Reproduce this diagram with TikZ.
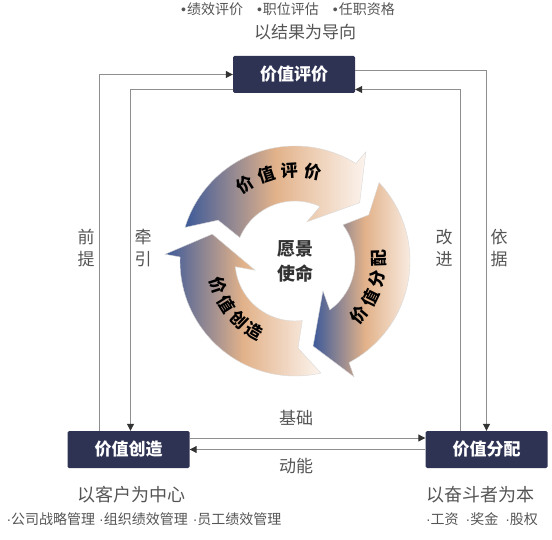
\documentclass[tikz,border=0pt]{standalone}
\usepackage{fontspec}
\setmainfont{Noto Sans CJK SC}
\newfontfamily\dotfont{Liberation Sans}
\usetikzlibrary{arrows.meta}

\definecolor{boxnavy}{HTML}{2E3354}
\definecolor{linegray}{HTML}{8E8E8E}
\definecolor{textgray}{HTML}{555555}
\definecolor{ringblue}{HTML}{3D5A99}
\definecolor{ringtan}{HTML}{E2B28A}
\definecolor{ringpale}{HTML}{FCF4EE}

\newcommand\bul{{\dotfont\textbullet}\hspace{1pt}}
\newcommand\mdot{{\dotfont\textperiodcentered}}

\tikzset{
  stage/.style={fill=boxnavy, text=white, font=\bfseries\fontsize{17}{17}\selectfont,
    minimum width=122pt, minimum height=37pt, inner sep=0pt, rounded corners=1.5pt},
  note/.style={text=textgray, font=\fontsize{17}{21.5}\selectfont, inner sep=0pt, align=center},
  small/.style={text=textgray, font=\fontsize{14}{14}\selectfont, inner sep=0pt},
  ringtext/.style={font=\bfseries\fontsize{17}{17}\selectfont, inner sep=0pt},
  link/.style={draw=linegray, line width=1pt},
  linkarrow/.style={link, -{Triangle[length=7pt,width=7pt,color=black!80]}}
}

% one ring segment, #1 = angle of its tip
\newcommand\cyclearrow[1]{%
  \shade[left color=ringblue, right color=ringpale, middle color=ringtan,
         draw=black!15, line width=.4pt]
    ({#1+121}:115) arc[start angle={#1+121}, end angle={#1+16}, radius=115]
    -- ({#1+15}:130) -- (#1:87) -- ({#1+31}:41) -- ({#1+23.4}:60)
    arc[start angle={#1+23.4}, end angle={#1+115}, radius=60]
    -- ({#1+110}:87) -- cycle;}

\begin{document}
\begin{tikzpicture}[x=1pt,y=1pt]
  \useasboundingbox (0,0) rectangle (552,539);

  \node[stage] (eval) at (294,464.5) {价值评价};
  \node[stage] (create) at (128.5,89.5) {价值创造};
  \node[stage] (alloc) at (486.5,89.5) {价值分配};

  \node[small] (evalitems) at (288,530) {\bul 绩效评价\hspace{14pt}\bul 职位评估\hspace{14pt}\bul 任职资格};
  \node[note] (evalaim) at (305,507) {以结果为导向};
  \node[note, font=\fontsize{18}{18}\selectfont] (createaim) at (131,44) {以客户为中心};
  \node[small] (createitems) at (144,20) {\mdot 公司战略管理\hspace{4pt}\mdot 组织绩效管理\hspace{5pt}\mdot 员工绩效管理};
  \node[note, font=\fontsize{18}{18}\selectfont] (allocaim) at (480,44) {以奋斗者为本};
  \node[small] (allocitems) at (482,20) {\mdot 工资\hspace{7pt}\mdot 奖金\hspace{7pt}\mdot 股权};

  \draw[linkarrow] ([xshift=-29.5pt]create.north) |- (eval.west);
  \draw[linkarrow] ([yshift=-15pt]eval.west) -| ([xshift=2pt]create.north);
  \draw[linkarrow] ([yshift=4pt]eval.east) -| (alloc.north);
  \draw[linkarrow] ([xshift=-26pt]alloc.north) |- ([yshift=-15pt]eval.east);
  \draw[linkarrow] ([yshift=11.5pt]create.east) -- ([yshift=11.5pt]alloc.west);
  \draw[linkarrow] (alloc.west) -- (create.east);

  \node[note] (premise) at (86,291) {前\\提};
  \node[note] (pull) at (143,291) {牵\\引};
  \node[note] (improve) at (444,291) {改\\进};
  \node[note] (basis) at (499,291) {依\\据};
  \node[note] (base) at (296,121) {基础};
  \node[note] (drive) at (296,73) {动能};

  \begin{scope}[shift={(295,278)}]
  \cyclearrow{42}
  \cyclearrow{-78}
  \cyclearrow{162}
  \foreach \a/\ch [count=\i] in {123/价,108.2/值,93.4/评,78.6/价}
    \node[ringtext, rotate=\a-90] (ev\i) at (\a:91) {\ch};
  \foreach \a/\ch [count=\i] in {-40/价,-26/值,-12/分,2/配}
    \node[ringtext, rotate=\a+90] (al\i) at (\a:84) {\ch};
  \foreach \a/\ch [count=\i] in {198/价,212/值,226/创,240/造}
    \node[ringtext, rotate=\a+90] (cr\i) at (\a:81) {\ch};
  \node[font=\bfseries\fontsize{18}{25}\selectfont, text=black!80, align=center,
        inner sep=0pt] (vision) at (0,0) {愿景\\使命};
  \end{scope}
\end{tikzpicture}
\end{document}
